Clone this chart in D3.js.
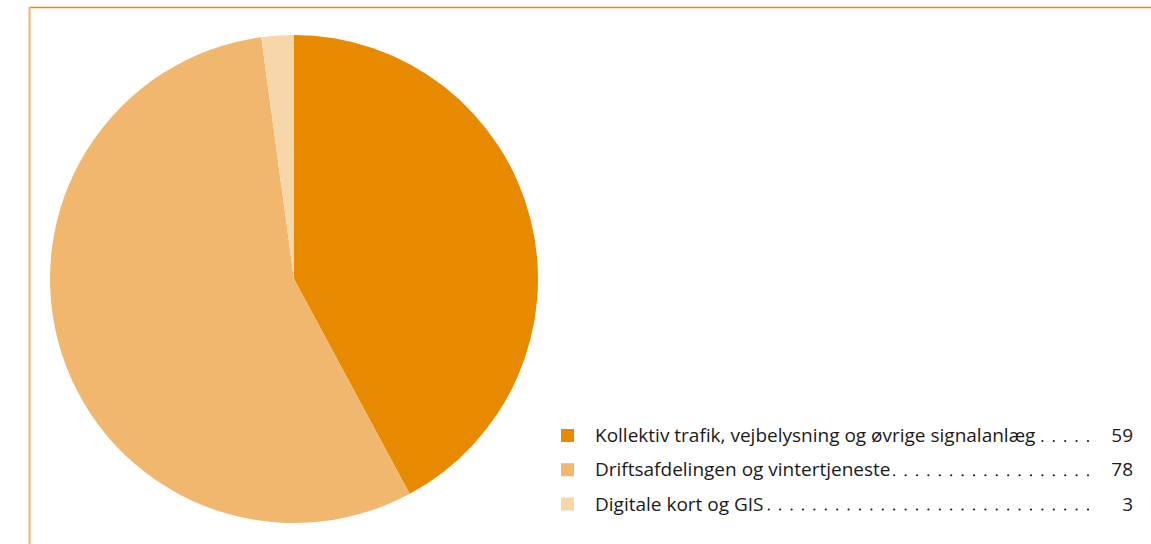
<!DOCTYPE html>
<html>
<head>
<meta charset="utf-8">
<script src="https://cdn.jsdelivr.net/npm/d3@7"></script>
<style>
  body { margin: 0; background: #fff; }
  svg { display: block; }
</style>
</head>
<body>
<div id="chart"></div>
<script>
const categories = ["Kollektiv trafik, vejbelysning og øvrige signalanlæg", "Driftsafdelingen og vintertjeneste", "Digitale kort og GIS"];
const values = [59, 78, 3];
const colors = ["#e88a00", "#f2b76e", "#f7d6a9"];

const width = 1151, height = 544;

const svg = d3.select("#chart").append("svg")
    .attr("width", width)
    .attr("height", height);

// frame lines (top + left)
svg.append("line")
    .attr("x1", 29).attr("x2", width)
    .attr("y1", 7.5).attr("y2", 7.5)
    .attr("stroke", "#e88a00").attr("stroke-width", 1.5);
svg.append("line")
    .attr("x1", 29.5).attr("x2", 29.5)
    .attr("y1", 7).attr("y2", height)
    .attr("stroke", "#f3b264").attr("stroke-width", 2);

// pie
const data = categories.map((c, i) => ({cat: c, value: values[i], color: colors[i]}));
const pie = d3.pie().sort(null).value(d => d.value);
const arc = d3.arc().innerRadius(0).outerRadius(244);

const g = svg.append("g").attr("transform", "translate(294,279)");
g.selectAll("path")
    .data(pie(data))
    .enter()
    .append("path")
    .attr("d", arc)
    .attr("fill", d => d.data.color);

// legend
const legend = svg.append("g").attr("class", "legend");
const rowY = d3.scalePoint().domain(categories).range([435.5, 504]);
const dotEnd = 1088;
const font = "'Open Sans', Lato, sans-serif";

const rows = legend.selectAll("g.row")
    .data(data)
    .enter()
    .append("g")
    .attr("class", "row")
    .attr("transform", d => `translate(0, ${rowY(d.cat)})`);

rows.append("rect")
    .attr("x", 561).attr("y", -6.5)
    .attr("width", 13).attr("height", 13)
    .attr("fill", d => d.color);

rows.append("text")
    .attr("x", 595).attr("y", 6.5)
    .style("font-family", font)
    .style("font-size", "19px")
    .style("fill", "#1a1a1a")
    .text(d => d.cat);

rows.append("text")
    .attr("x", 1133).attr("y", 6.5)
    .attr("text-anchor", "end")
    .style("font-family", font)
    .style("font-size", "19px")
    .style("fill", "#1a1a1a")
    .text(d => d.value);

// leader dots
rows.each(function(d) {
    let row = d3.select(this);
    let tw = row.select("text").node().getComputedTextLength();
    let start = 595 + tw + 2;
    let pts = [];
    for (let x = dotEnd; x >= start; x -= 11.4) pts.push(x);
    row.selectAll("circle")
        .data(pts)
        .enter()
        .append("circle")
        .attr("cx", x => x)
        .attr("cy", 5.5)
        .attr("r", 1.1)
        .attr("fill", "#1a1a1a");
});
</script>
</body>
</html>
